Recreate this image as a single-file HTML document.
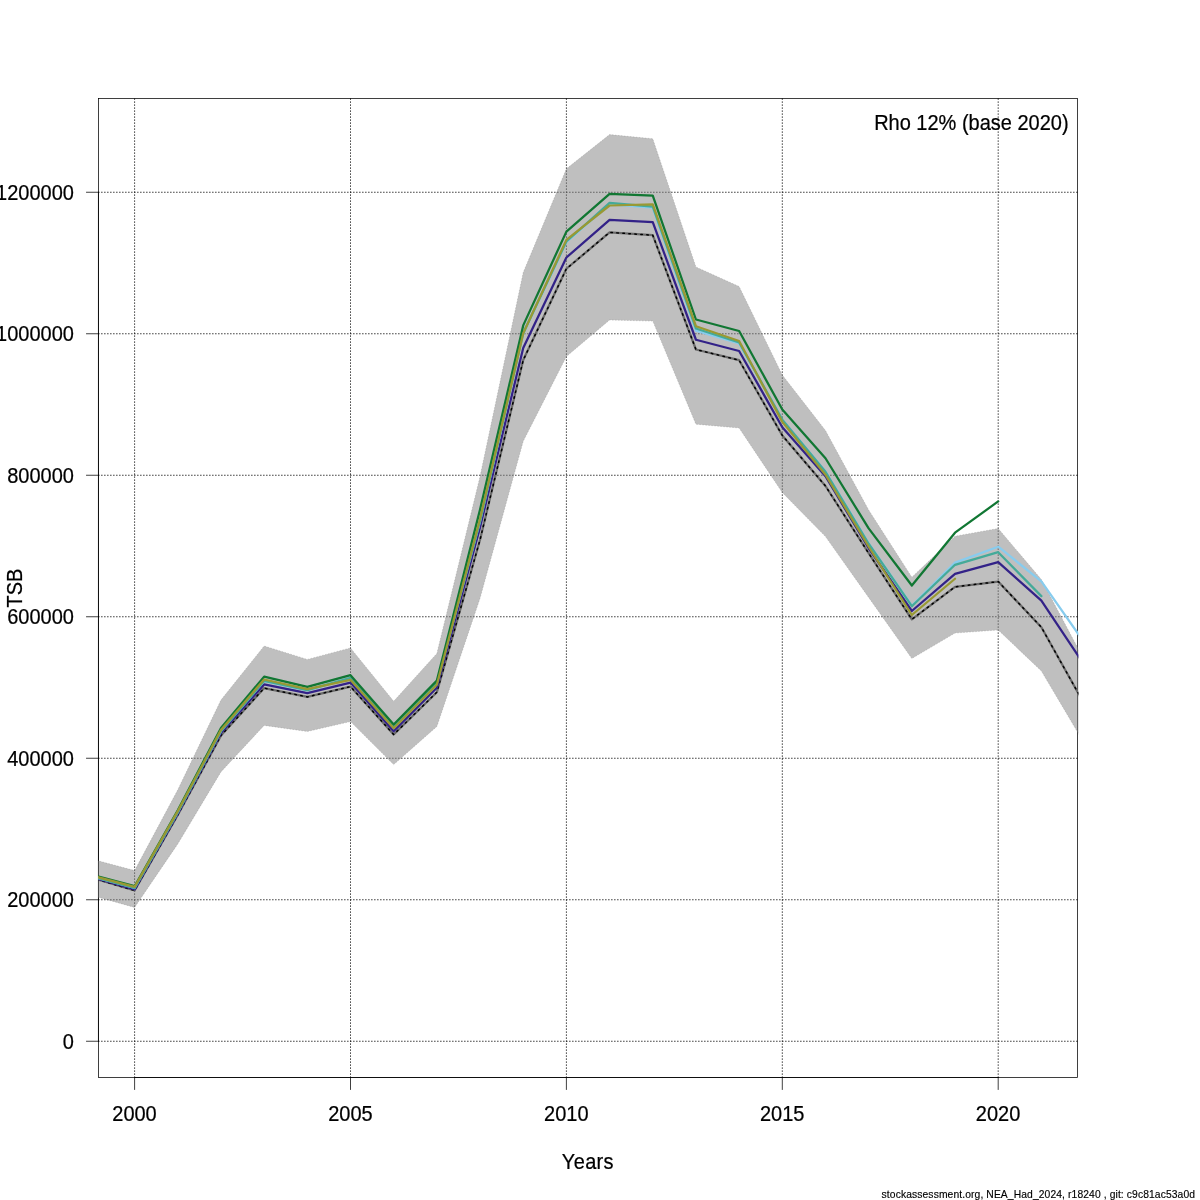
<!DOCTYPE html>
<html lang="en">
<head>
<meta charset="utf-8">
<title>TSB retrospective</title>
<style>
html,body{margin:0;padding:0;background:#fff;}
body{width:1200px;height:1200px;overflow:hidden;font-family:"Liberation Sans",Arial,Helvetica,sans-serif;}
svg{display:block;}
</style>
</head>
<body>
<svg width="1200" height="1200" viewBox="0 0 1200 1200" font-family="'Liberation Sans', Arial, Helvetica, sans-serif" font-size="20" fill="#000" stroke-width="0.22">
<rect x="0" y="0" width="1200" height="1200" fill="#fff"/>
<defs><clipPath id="pc"><rect x="98.05" y="98.00" width="980.35" height="979.90"/></clipPath></defs>
<rect x="98.45" y="98.4" width="979.15" height="979.10" fill="none" stroke="#000" stroke-width="0.75"/>
<g stroke="#000" stroke-width="0.75" fill="none" stroke-linecap="round">
<path d="M134.60 1077.5 H998.20"/>
<path d="M134.60 1077.5 v12"/>
<path d="M350.50 1077.5 v12"/>
<path d="M566.40 1077.5 v12"/>
<path d="M782.30 1077.5 v12"/>
<path d="M998.20 1077.5 v12"/>
<path d="M98.45 1041.25 V192.25"/>
<path d="M98.45 1041.25 h-12"/>
<path d="M98.45 899.75 h-12"/>
<path d="M98.45 758.25 h-12"/>
<path d="M98.45 616.75 h-12"/>
<path d="M98.45 475.25 h-12"/>
<path d="M98.45 333.75 h-12"/>
<path d="M98.45 192.25 h-12"/>
</g>
<text transform="translate(134.50 1121.00) scale(1 1.06)" text-anchor="middle" stroke="#000">2000</text>
<text transform="translate(350.40 1121.00) scale(1 1.06)" text-anchor="middle" stroke="#000">2005</text>
<text transform="translate(566.30 1121.00) scale(1 1.06)" text-anchor="middle" stroke="#000">2010</text>
<text transform="translate(782.20 1121.00) scale(1 1.06)" text-anchor="middle" stroke="#000">2015</text>
<text transform="translate(998.10 1121.00) scale(1 1.06)" text-anchor="middle" stroke="#000">2020</text>
<text transform="translate(587.90 1168.80) scale(1 1.06)" text-anchor="middle" letter-spacing="0.35" stroke="#000">Years</text>
<text transform="translate(73.90 1048.90) scale(1 1.06)" text-anchor="end" stroke="#000">0</text>
<text transform="translate(73.90 907.40) scale(1 1.06)" text-anchor="end" stroke="#000">200000</text>
<text transform="translate(73.90 765.90) scale(1 1.06)" text-anchor="end" stroke="#000">400000</text>
<text transform="translate(73.90 624.40) scale(1 1.06)" text-anchor="end" stroke="#000">600000</text>
<text transform="translate(73.90 482.90) scale(1 1.06)" text-anchor="end" stroke="#000">800000</text>
<text transform="translate(73.90 341.40) scale(1 1.06)" text-anchor="end" stroke="#000">1000000</text>
<text transform="translate(73.90 199.90) scale(1 1.06)" text-anchor="end" stroke="#000">1200000</text>
<text transform="translate(22.1 588) rotate(-90) scale(1 1.06)" text-anchor="middle" stroke="#000">TSB</text>
<g stroke="#000" stroke-width="0.75" fill="none" stroke-dasharray="0.75 2.25" stroke-linecap="round">
<path d="M134.60 1077.5 V98.4"/>
<path d="M350.50 1077.5 V98.4"/>
<path d="M566.40 1077.5 V98.4"/>
<path d="M782.30 1077.5 V98.4"/>
<path d="M998.20 1077.5 V98.4"/>
<path d="M98.45 1041.25 H1077.6"/>
<path d="M98.45 899.75 H1077.6"/>
<path d="M98.45 758.25 H1077.6"/>
<path d="M98.45 616.75 H1077.6"/>
<path d="M98.45 475.25 H1077.6"/>
<path d="M98.45 333.75 H1077.6"/>
<path d="M98.45 192.25 H1077.6"/>
</g>
<g clip-path="url(#pc)" fill="none" stroke-linejoin="round" stroke-linecap="round" stroke-width="2.25">
<polygon points="91.42,859.00 134.60,870.60 177.78,789.80 220.96,700.00 264.14,646.00 307.32,659.40 350.50,647.90 393.68,701.30 436.86,653.50 480.04,476.50 523.22,272.50 566.40,168.75 609.58,134.60 652.76,138.75 695.94,267.00 739.12,286.50 782.30,375.00 825.48,430.50 868.66,510.00 911.84,577.20 955.02,536.20 998.20,528.50 1041.38,579.50 1084.56,660.70 1084.56,743.90 1041.38,671.00 998.20,630.00 955.02,633.10 911.84,658.50 868.66,597.40 825.48,536.60 782.30,492.50 739.12,428.00 695.94,424.20 652.76,321.10 609.58,320.00 566.40,356.50 523.22,441.25 480.04,598.20 436.86,726.50 393.68,764.60 350.50,721.60 307.32,731.50 264.14,725.40 220.96,771.90 177.78,843.90 134.60,907.40 91.42,895.30" fill="#808080" fill-opacity="0.5" stroke="#707070" stroke-opacity="0.35" stroke-width="0.75" stroke-dasharray="0.75 2.25"/>
<polyline points="91.42,877.70 134.60,890.50 177.78,815.00 220.96,735.60 264.14,688.10 307.32,696.90 350.50,686.60 393.68,734.50 436.86,692.20 480.04,539.80 523.22,360.10 566.40,268.75 609.58,232.40 652.76,235.20 695.94,349.50 739.12,360.20 782.30,435.40 825.48,486.00 868.66,553.20 911.84,619.30 955.02,586.90 998.20,581.60 1041.38,627.20 1084.56,704.50" stroke="#6b6b6b"/>
<polyline points="91.42,877.70 134.60,890.50 177.78,815.00 220.96,735.60 264.14,688.10 307.32,696.90 350.50,686.60 393.68,734.50 436.86,692.20 480.04,539.80 523.22,360.10 566.40,268.75 609.58,232.40 652.76,235.20 695.94,349.50 739.12,360.20 782.30,435.40 825.48,486.00 868.66,553.20 911.84,619.30 955.02,586.90 998.20,581.60 1041.38,627.20 1084.56,704.50" stroke="#000" stroke-width="1.5" stroke-dasharray="1.5 4.5"/>
<polyline points="91.42,876.90 134.60,889.40 177.78,813.60 220.96,733.00 264.14,684.40 307.32,693.20 350.50,682.60 393.68,731.30 436.86,687.80 480.04,527.50 523.22,348.00 566.40,257.50 609.58,219.80 652.76,222.10 695.94,339.75 739.12,351.00 782.30,427.20 825.48,476.25 868.66,548.25 911.84,611.00 955.02,573.90 998.20,562.20 1041.38,600.60 1084.56,665.40" stroke="#332288"/>
<polyline points="91.42,876.20 134.60,888.00 177.78,812.20 220.96,731.10 264.14,681.10 307.32,690.30 350.50,677.90 393.68,726.60 436.86,682.90 480.04,521.50 523.22,334.00 566.40,242.00 609.58,204.50 652.76,207.75 695.94,330.60 739.12,343.50 782.30,420.00 825.48,471.50 868.66,543.50 911.84,605.80 955.02,562.60 998.20,546.70 1041.38,581.30 1084.56,642.90" stroke="#88CCEE"/>
<polyline points="91.42,876.20 134.60,888.00 177.78,812.20 220.96,731.00 264.14,681.00 307.32,690.20 350.50,677.80 393.68,726.50 436.86,682.80 480.04,521.00 523.22,333.00 566.40,241.50 609.58,202.80 652.76,206.70 695.94,328.50 739.12,342.50 782.30,419.60 825.48,471.75 868.66,543.75 911.84,606.20 955.02,564.80 998.20,552.20 1041.38,596.10" stroke="#44AA99"/>
<polyline points="91.42,874.80 134.60,886.20 177.78,810.30 220.96,727.90 264.14,676.70 307.32,686.90 350.50,675.20 393.68,724.50 436.86,680.60 480.04,509.60 523.22,325.40 566.40,231.60 609.58,193.80 652.76,195.60 695.94,319.50 739.12,331.00 782.30,409.50 825.48,458.25 868.66,528.40 911.84,585.50 955.02,532.70 998.20,501.40" stroke="#117733"/>
<polyline points="91.42,875.50 134.60,886.90 177.78,811.10 220.96,729.90 264.14,679.50 307.32,689.10 350.50,679.85 393.68,728.20 436.86,684.80 480.04,518.70 523.22,333.50 566.40,239.90 609.58,205.50 652.76,204.30 695.94,326.25 739.12,341.00 782.30,421.90 825.48,474.75 868.66,546.75 911.84,615.00 955.02,578.75" stroke="#999933"/>
</g>
<text transform="translate(1068.60 129.60) scale(1 1.06)" text-anchor="end" stroke="#000">Rho 12% (base 2020)</text>
<text x="881.6" y="1198" font-size="10.3" stroke="#000" stroke-width="0.15" textLength="313.4" lengthAdjust="spacing">stockassessment.org, NEA_Had_2024, r18240 , git: c9c81ac53a0d</text>
</svg>
</body>
</html>
